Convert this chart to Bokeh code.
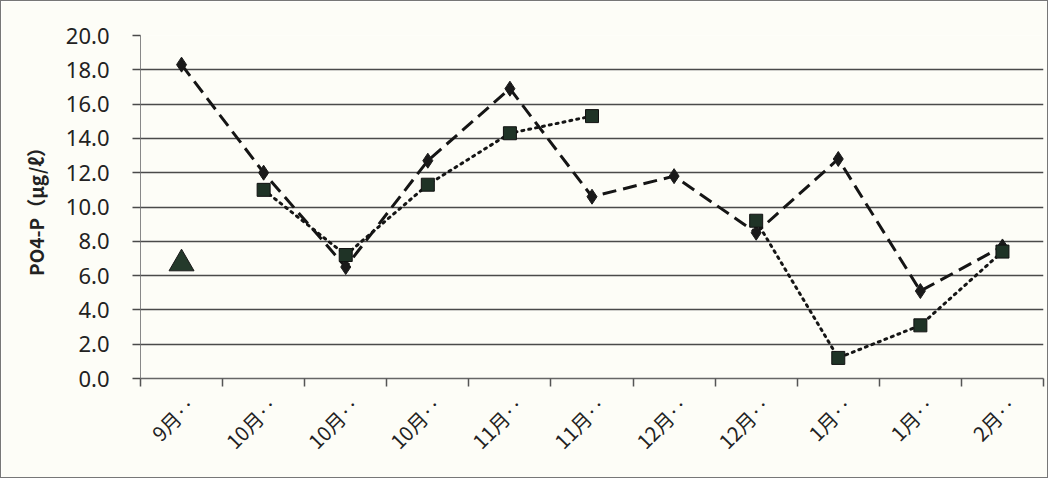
import math
from bokeh.plotting import figure
from bokeh.models import Range1d, FixedTicker
from bokeh.embed import file_html
from bokeh.resources import INLINE

# ---- data ----
dates = ["9月‥", "10月‥", "10月‥", "10月‥", "11月‥", "11月‥",
         "12月‥", "12月‥", "1月‥", "1月‥", "2月‥"]
series_diamond = [18.3, 12.0, 6.5, 12.7, 16.9, 10.6, 11.8, 8.5, 12.8, 5.1, 7.7]
series_square = [float("nan"), 11.0, 7.2, 11.3, 14.3, 15.3, float("nan"), 9.2, 1.2, 3.1, 7.4]
series_triangle = [6.7] + [float("nan")] * 10
y_ticks = [0, 2, 4, 6, 8, 10, 12, 14, 16, 18, 20]

xs = [i + 0.5 for i in range(len(dates))]
label_pos = [round(i + 0.62, 2) for i in range(len(dates))]  # label anchor slightly right of centre

p = figure(width=1048, height=478, output_backend="svg", toolbar_location=None,
           x_range=Range1d(0, len(dates)), y_range=Range1d(0, 20),
           min_border_left=139, min_border_right=6, min_border_top=34,
           min_border_bottom=101)
p.background_fill_color = "#fdfdf7"
p.border_fill_color = "#fdfdf7"
p.outline_line_color = None
p.styles = {"border": "1px solid #777"}

grid_col = "#4a4a4a"
# y axis
p.yaxis.ticker = FixedTicker(ticks=y_ticks)
p.yaxis.major_label_overrides = {t: f"{t:.1f}" for t in y_ticks}
p.yaxis.major_tick_out = 8
p.yaxis.major_tick_in = 0
p.yaxis.minor_tick_out = 0
p.yaxis.minor_tick_in = 0
p.yaxis.major_tick_line_color = grid_col
p.yaxis.major_tick_line_width = 1.5
p.yaxis.axis_line_color = "#888888"
p.yaxis.major_label_standoff = 23
p.yaxis.major_label_text_font = "Noto Sans"
p.yaxis.major_label_text_font_size = "22px"
p.yaxis.major_label_text_color = "#222222"
p.yaxis.axis_label = "PO4-P（μg/ℓ）"
p.yaxis.axis_label_text_font = "Noto Sans CJK JP"
p.yaxis.axis_label_text_font_style = "bold"
p.yaxis.axis_label_text_font_size = "19px"
p.yaxis.axis_label_text_color = "#222222"
p.yaxis.axis_label_standoff = 14

# x axis: labels near centres, ticks at boundaries
p.xaxis.ticker = FixedTicker(ticks=label_pos, minor_ticks=list(range(len(dates) + 1)))
p.xaxis.major_label_overrides = {x: d for x, d in zip(label_pos, dates)}
p.xaxis.major_label_orientation = math.pi / 4
p.xaxis.major_tick_out = 0
p.xaxis.major_tick_in = 0
p.xaxis.minor_tick_out = 8
p.xaxis.minor_tick_in = 0
p.xaxis.minor_tick_line_color = "#555555"
p.xaxis.minor_tick_line_width = 1.5
p.xaxis.axis_line_color = "#666666"
p.xaxis.axis_line_width = 1.5
p.xaxis.major_label_standoff = 14
p.xaxis.major_label_text_font = "Noto Sans CJK JP"
p.xaxis.major_label_text_font_size = "20px"
p.xaxis.major_label_text_color = "#222222"

p.xgrid.grid_line_color = None
p.ygrid.ticker = FixedTicker(ticks=y_ticks[1:])
p.ygrid.grid_line_color = grid_col
p.ygrid.grid_line_width = 1.6

# series
p.line(xs, series_diamond, line_color="#151515", line_width=3, line_dash="14 7")
p.line(xs, series_square, line_color="#151515", line_width=3, line_dash="2 5",
       line_cap="round")
p.scatter(xs, series_diamond, marker="diamond", size=15, fill_color="#1a1a1a",
          line_color="#1a1a1a")
p.scatter(xs, series_square, marker="square", size=13, fill_color="#1f3326",
          line_color="#111111")
p.scatter(xs, series_triangle, marker="triangle", size=25, fill_color="#243a2b",
          line_color="#1a1a1a")

open("out.html", "w").write(file_html(p, INLINE))
